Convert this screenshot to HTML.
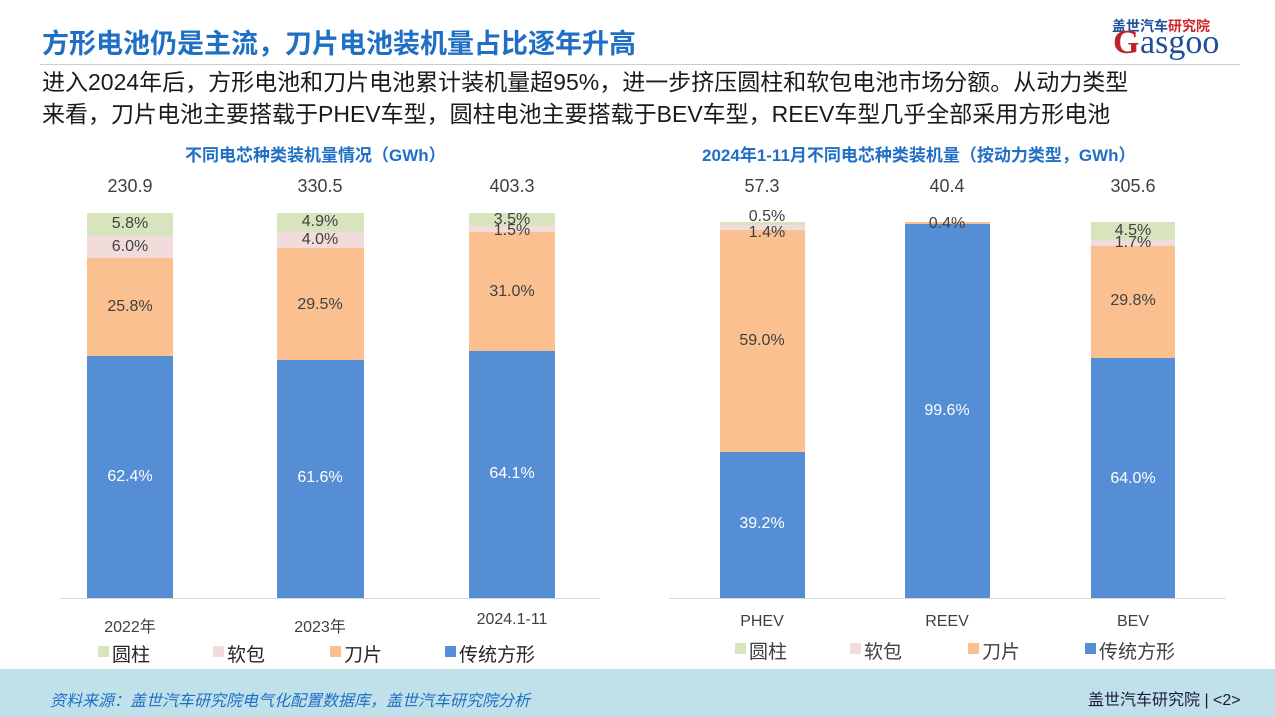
<!DOCTYPE html>
<html><head><meta charset="utf-8"><style>
body{margin:0;width:1275px;height:717px;position:relative;background:#fff;font-family:"Liberation Sans","Noto Sans CJK SC",sans-serif;overflow:hidden}
.a{position:absolute;white-space:nowrap}
.bar{position:absolute}
.g{background:#d7e4bd}.p{background:#f2dcdb}.o{background:#fac090}.b{background:#558ed5}
.lbl{position:absolute;font-size:16px;color:#404040;text-align:center;width:120px;margin-left:-60px}
.wl{color:#fff}
.sq{position:absolute;width:11px;height:11px}
.lg{position:absolute;font-size:19px;color:#262626}
</style></head><body>
<div class="a" style="left:42px;top:22px;font-size:27px;font-weight:bold;color:#1f6fc5">方形电池仍是主流，刀片电池装机量占比逐年升高</div>
<div class="a" style="left:1112px;top:16px;font-size:14px;color:#1f4e9c;font-weight:bold">盖世汽车<span style="color:#d0222c">研究院</span></div>
<div class="a" style="left:1140px;top:24px;font-size:34px;color:#1f4e9c;font-family:'Liberation Serif',serif">asgoo</div>
<div class="a" style="left:1113px;top:24px;font-size:34px;color:#c0222c;font-family:'Liberation Serif',serif;font-weight:bold">G</div>
<div class="a" style="left:40px;top:64px;width:1200px;height:1px;background:#ccc"></div>
<div class="a" style="left:42px;top:66px;font-size:23px;color:#1a1a1a;line-height:32px">进入2024年后，方形电池和刀片电池累计装机量超95%，进一步挤压圆柱和软包电池市场分额。从动力类型<br>来看，刀片电池主要搭载于PHEV车型，圆柱电池主要搭载于BEV车型，REEV车型几乎全部采用方形电池</div>
<div class="a" style="left:185px;top:141px;font-size:17px;font-weight:bold;color:#1f6fc5">不同电芯种类装机量情况（GWh）</div>
<div class="a" style="left:702px;top:141px;font-size:17px;font-weight:bold;color:#1f6fc5">2024年1-11月不同电芯种类装机量（按动力类型，GWh）</div>
<!-- left chart -->
<div class="a" style="left:60px;top:598px;width:540px;height:1px;background:#d9d9d9"></div>
<div class="bar g" style="left:87px;top:213px;width:86px;height:23px"></div>
<div class="bar p" style="left:87px;top:236px;width:86px;height:22px"></div>
<div class="bar o" style="left:87px;top:258px;width:86px;height:98px"></div>
<div class="bar b" style="left:87px;top:356px;width:86px;height:242px"></div>
<div class="bar g" style="left:277px;top:213px;width:87px;height:19px"></div>
<div class="bar p" style="left:277px;top:232px;width:87px;height:16px"></div>
<div class="bar o" style="left:277px;top:248px;width:87px;height:112px"></div>
<div class="bar b" style="left:277px;top:360px;width:87px;height:238px"></div>
<div class="bar g" style="left:469px;top:213px;width:86px;height:13px"></div>
<div class="bar p" style="left:469px;top:226px;width:86px;height:6px"></div>
<div class="bar o" style="left:469px;top:232px;width:86px;height:119px"></div>
<div class="bar b" style="left:469px;top:351px;width:86px;height:247px"></div>
<div class="lbl" style="left:130px;top:176px;font-size:18px">230.9</div>
<div class="lbl" style="left:320px;top:176px;font-size:18px">330.5</div>
<div class="lbl" style="left:512px;top:176px;font-size:18px">403.3</div>
<div class="lbl" style="left:130px;top:215px">5.8%</div><div class="lbl" style="left:130px;top:238px">6.0%</div>
<div class="lbl" style="left:130px;top:298px">25.8%</div><div class="lbl wl" style="left:130px;top:468px">62.4%</div>
<div class="lbl" style="left:320px;top:213px">4.9%</div><div class="lbl" style="left:320px;top:231px">4.0%</div>
<div class="lbl" style="left:320px;top:296px">29.5%</div><div class="lbl wl" style="left:320px;top:469px">61.6%</div>
<div class="lbl" style="left:512px;top:211px">3.5%</div><div class="lbl" style="left:512px;top:222px">1.5%</div>
<div class="lbl" style="left:512px;top:283px">31.0%</div><div class="lbl wl" style="left:512px;top:465px">64.1%</div>
<div class="lbl" style="left:130px;top:613px">2022年</div>
<div class="lbl" style="left:320px;top:613px">2023年</div>
<div class="lbl" style="left:512px;top:611px">2024.1-11</div>
<div class="sq g" style="left:98px;top:646px"></div><div class="lg" style="left:112px;top:640px">圆柱</div>
<div class="sq p" style="left:213px;top:646px"></div><div class="lg" style="left:227px;top:640px">软包</div>
<div class="sq o" style="left:330px;top:646px"></div><div class="lg" style="left:344px;top:640px">刀片</div>
<div class="sq b" style="left:445px;top:646px"></div><div class="lg" style="left:459px;top:640px">传统方形</div>
<!-- right chart -->
<div class="a" style="left:669px;top:598px;width:557px;height:1px;background:#d9d9d9"></div>
<div class="bar g" style="left:720px;top:222px;width:85px;height:3px"></div>
<div class="bar p" style="left:720px;top:225px;width:85px;height:5px"></div>
<div class="bar o" style="left:720px;top:230px;width:85px;height:222px"></div>
<div class="bar b" style="left:720px;top:452px;width:85px;height:146px"></div>
<div class="bar o" style="left:905px;top:222px;width:85px;height:2px"></div>
<div class="bar b" style="left:905px;top:224px;width:85px;height:374px"></div>
<div class="bar g" style="left:1091px;top:222px;width:84px;height:18px"></div>
<div class="bar p" style="left:1091px;top:240px;width:84px;height:6px"></div>
<div class="bar o" style="left:1091px;top:246px;width:84px;height:112px"></div>
<div class="bar b" style="left:1091px;top:358px;width:84px;height:240px"></div>
<div class="lbl" style="left:762px;top:176px;font-size:18px">57.3</div>
<div class="lbl" style="left:947px;top:176px;font-size:18px">40.4</div>
<div class="lbl" style="left:1133px;top:176px;font-size:18px">305.6</div>
<div class="lbl" style="left:767px;top:208px">0.5%</div><div class="lbl" style="left:767px;top:224px">1.4%</div>
<div class="lbl" style="left:762px;top:332px">59.0%</div><div class="lbl wl" style="left:762px;top:515px">39.2%</div>
<div class="lbl" style="left:947px;top:215px">0.4%</div><div class="lbl wl" style="left:947px;top:402px">99.6%</div>
<div class="lbl" style="left:1133px;top:222px">4.5%</div><div class="lbl" style="left:1133px;top:234px">1.7%</div>
<div class="lbl" style="left:1133px;top:292px">29.8%</div><div class="lbl wl" style="left:1133px;top:470px">64.0%</div>
<div class="lbl" style="left:762px;top:613px">PHEV</div>
<div class="lbl" style="left:947px;top:613px">REEV</div>
<div class="lbl" style="left:1133px;top:613px">BEV</div>
<div class="sq g" style="left:735px;top:643px"></div><div class="lg" style="left:749px;top:637px;color:#404040">圆柱</div>
<div class="sq p" style="left:850px;top:643px"></div><div class="lg" style="left:864px;top:637px;color:#404040">软包</div>
<div class="sq o" style="left:968px;top:643px"></div><div class="lg" style="left:982px;top:637px;color:#404040">刀片</div>
<div class="sq b" style="left:1085px;top:643px"></div><div class="lg" style="left:1099px;top:637px;color:#404040">传统方形</div>
<!-- footer -->
<div class="a" style="left:0;top:669px;width:1275px;height:48px;background:#c1e1ea"></div>
<div class="a" style="left:50px;top:687px;font-size:16px;color:#1f6fc5;font-style:italic">资料来源：盖世汽车研究院电气化配置数据库，盖世汽车研究院分析</div>
<div class="a" style="left:1088px;top:686px;font-size:16px;color:#1a1a3a">盖世汽车研究院 | &lt;2&gt;</div>
</body></html>
